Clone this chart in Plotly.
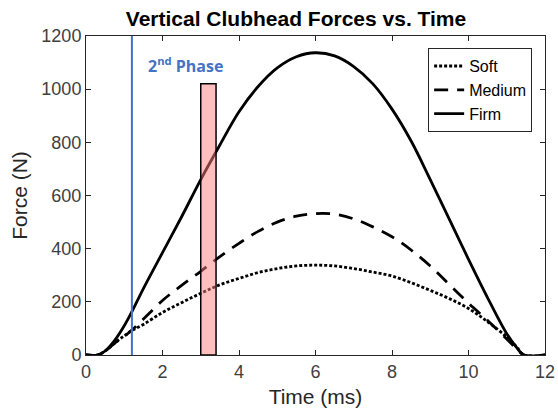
import plotly.graph_objects as go

# Time (ms)
time_ms = [0, 0.3, 0.5, 0.75, 1.0, 1.2, 1.5, 2.0, 2.5, 3.0, 3.5, 4.0, 4.5, 5.0, 5.5,
           6.0, 6.5, 7.0, 7.5, 8.0, 8.5, 9.0, 9.5, 10.0, 10.5, 11.0, 11.25, 11.45, 12.0]

firm = [0, 0, 15, 55, 110, 163, 250, 385, 520, 660, 790, 915, 1010, 1080, 1122,
        1137, 1125, 1085, 1020, 925, 805, 660, 510, 360, 215, 80, 30, 0, 0]
medium = [0, 0, 15, 45, 70, 94, 135, 205, 262, 315, 370, 420, 465, 500, 522,
          532, 530, 512, 482, 445, 395, 335, 265, 195, 130, 60, 25, 0, 0]
soft = [0, 0, 15, 45, 72, 92, 115, 160, 197, 232, 264, 288, 310, 325, 335,
        338, 335, 325, 312, 297, 272, 243, 212, 175, 125, 68, 32, 0, 0]

phase_line_x = [1.2, 1.2]
phase_line_y = [0, 1200]
rect_x = [3.0, 3.4]
rect_y = [0, 1020]

x_ticks = [0, 2, 4, 6, 8, 10, 12]
y_ticks = [0, 200, 400, 600, 800, 1000, 1200]

axis_col = "#262626"
font_fam = "Liberation Sans, Arial, sans-serif"

fig = go.Figure()
fig.add_trace(go.Scatter(x=time_ms, y=soft, mode="lines", name="Soft",
                         line=dict(color="black", width=2.8, dash="3px,2px", shape="spline")))
fig.add_trace(go.Scatter(x=time_ms, y=medium, mode="lines", name="Medium",
                         line=dict(color="black", width=2.8, dash="14px,9px", shape="spline")))
fig.add_trace(go.Scatter(x=time_ms, y=firm, mode="lines", name="Firm",
                         line=dict(color="black", width=2.8, shape="spline")))
fig.add_trace(go.Scatter(x=phase_line_x, y=phase_line_y, mode="lines", showlegend=False,
                         line=dict(color="#4472C4", width=2)))

fig.add_shape(type="rect", xref="x", yref="y", x0=rect_x[0], x1=rect_x[1],
              y0=rect_y[0], y1=rect_y[1], layer="above",
              fillcolor="rgba(255,128,128,0.5)", line=dict(color="black", width=1.5))

fig.add_annotation(x=1.58, y=1090, xref="x", yref="y", xanchor="left", yanchor="middle",
                   text="2<sup>nd</sup> Phase", showarrow=False,
                   font=dict(family="Open Sans, sans-serif", size=16, color="#4472C4", weight="bold"))

fig.update_layout(
    width=558, height=417,
    margin=dict(l=86, r=13, t=36, b=62, autoexpand=False),
    paper_bgcolor="white", plot_bgcolor="white",
    title=dict(text="<b>Vertical Clubhead Forces vs. Time</b>", x=296/558, xanchor="center",
               y=1 - 19/417, yanchor="middle",
               font=dict(family=font_fam, size=21, color="black")),
    font=dict(family=font_fam, color=axis_col),
    legend=dict(x=0.972, y=0.962, xanchor="right", yanchor="top",
                bgcolor="white", bordercolor=axis_col, borderwidth=1,
                font=dict(family=font_fam, size=16, color="black"),
                tracegroupgap=0, itemwidth=30),
    showlegend=True,
)
fig.update_xaxes(range=[0, 12], tickvals=x_ticks, ticks="inside", ticklen=5,
                 tickcolor=axis_col, showline=True, linecolor=axis_col, linewidth=1,
                 mirror="ticks", showgrid=False, zeroline=False, automargin=False,
                 tickfont=dict(size=18, color="#404040"),
                 title=dict(text="Time (ms)", font=dict(size=21, color="#262626"), standoff=8))
fig.update_yaxes(range=[0, 1200], tickvals=y_ticks, ticks="inside", ticklen=5,
                 tickcolor=axis_col, showline=True, linecolor=axis_col, linewidth=1,
                 mirror="ticks", showgrid=False, zeroline=False, automargin=False,
                 tickfont=dict(size=18, color="#404040"),
                 title=dict(text="Force (N)", font=dict(size=21, color="#262626"), standoff=8))

fig.write_html("out.html")
